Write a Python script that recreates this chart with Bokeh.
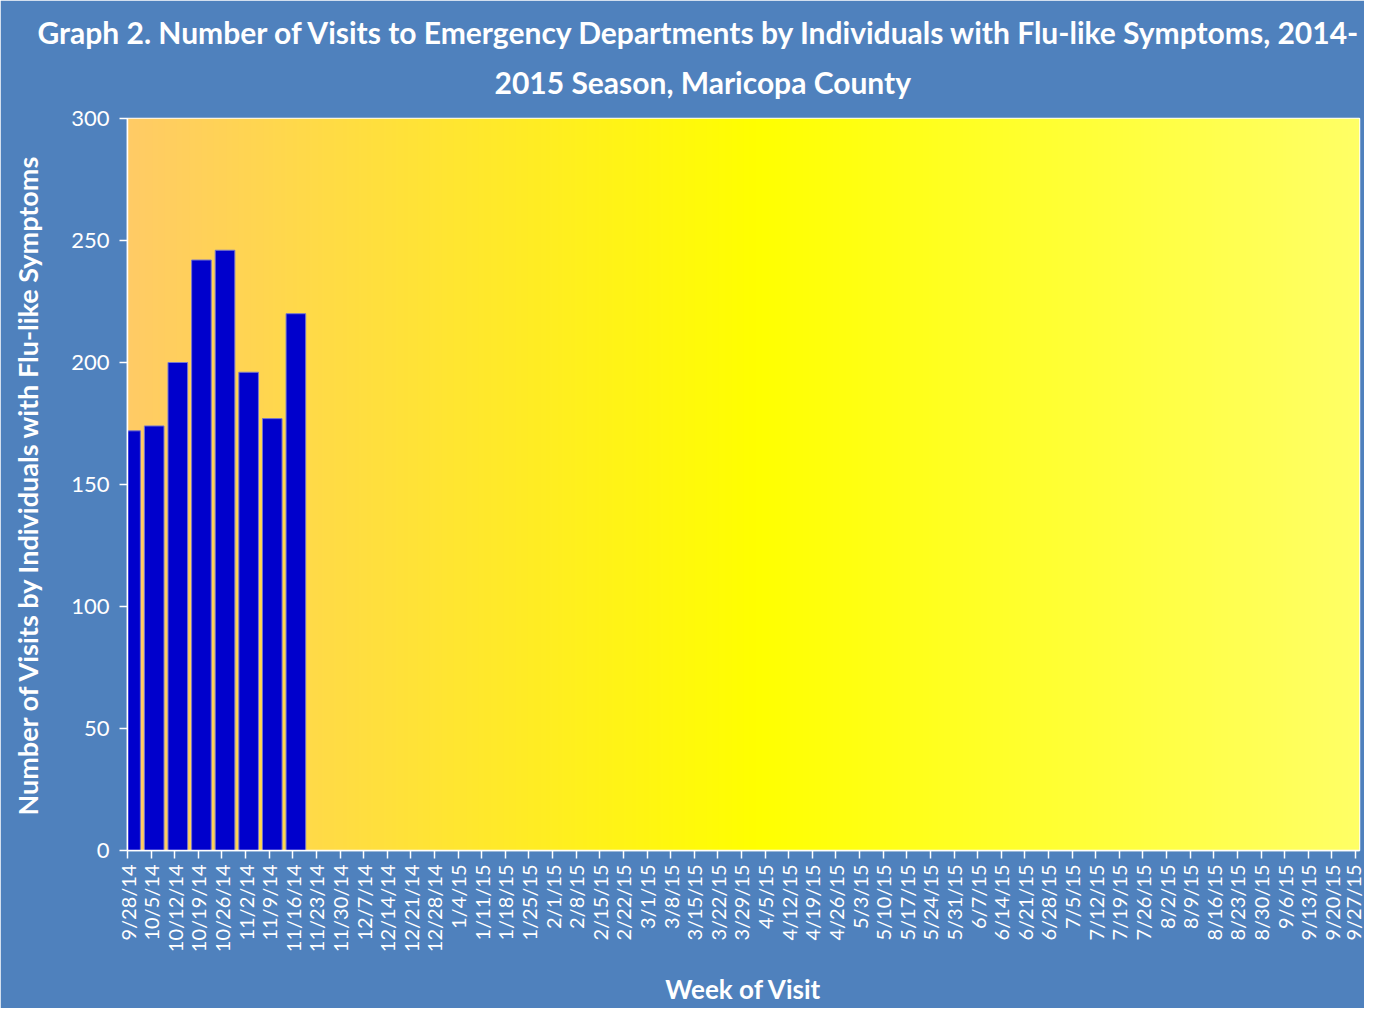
import numpy as np
from bokeh.plotting import figure
from bokeh.models import FixedTicker, ColumnDataSource, Range1d, Title
from bokeh.transform import dodge
from bokeh.embed import file_html
from bokeh.resources import INLINE

weeks = ["9/28/14", "10/5/14", "10/12/14", "10/19/14", "10/26/14", "11/2/14", "11/9/14",
         "11/16/14", "11/23/14", "11/30/14", "12/7/14", "12/14/14", "12/21/14", "12/28/14",
         "1/4/15", "1/11/15", "1/18/15", "1/25/15", "2/1/15", "2/8/15", "2/15/15", "2/22/15",
         "3/1/15", "3/8/15", "3/15/15", "3/22/15", "3/29/15", "4/5/15", "4/12/15", "4/19/15",
         "4/26/15", "5/3/15", "5/10/15", "5/17/15", "5/24/15", "5/31/15", "6/7/15", "6/14/15",
         "6/21/15", "6/28/15", "7/5/15", "7/12/15", "7/19/15", "7/26/15", "8/2/15", "8/9/15",
         "8/16/15", "8/23/15", "8/30/15", "9/6/15", "9/13/15", "9/20/15", "9/27/15"]
visits = [172, 174, 200, 242, 246, 196, 177, 220]
y_ticks = [0, 50, 100, 150, 200, 250, 300]
title_lines = ["Graph 2. Number of Visits to Emergency Departments by Individuals with Flu-like Symptoms, 2014-",
               "2015 Season, Maricopa County"]

BG = "#4F81BD"
FONT = "Lato"

idx = list(range(len(weeks)))
src = ColumnDataSource(dict(x=idx[:len(visits)], top=visits))

p = figure(width=1364, height=1008, output_backend="svg", toolbar_location=None,
           x_range=Range1d(0, len(weeks) - 1 + 0.17), y_range=Range1d(y_ticks[0], y_ticks[-1]),
           min_border_left=127, min_border_right=5, min_border_top=0, min_border_bottom=0)
p.background_fill_color = BG
p.border_fill_color = BG
p.outline_line_color = "white"
p.outline_line_width = 1.5
p.grid.visible = False
p.title.visible = False

# gradient plot background
n = 400
t = np.linspace(0, 1, n)
left = np.array([255, 203, 102]); mid = np.array([255, 255, 0]); right = np.array([255, 255, 102])
cols = np.where(t[:, None] < 0.51,
                left + (mid - left) * (t[:, None] / 0.51),
                mid + (right - mid) * ((t[:, None] - 0.51) / 0.49))
img = np.zeros((1, n), dtype=np.uint32)
view = img.view(dtype=np.uint8).reshape((1, n, 4))
view[0, :, 0] = cols[:, 0]; view[0, :, 1] = cols[:, 1]; view[0, :, 2] = cols[:, 2]; view[0, :, 3] = 255
xr = p.x_range
p.image_rgba(image=[img], x=xr.start, y=y_ticks[0], dw=xr.end - xr.start, dh=y_ticks[-1] - y_ticks[0])

p.vbar(x=dodge("x", 0.13, range=p.x_range), top="top", bottom=0, width=0.83, source=src,
       fill_color="#0000CC", line_color="#7777CC", line_width=1)

t2 = Title(text=title_lines[1], align="left", offset=367, text_color="white", text_font=FONT,
           text_font_style="bold", text_font_size="30px", standoff=38)
t1 = Title(text=title_lines[0], align="left", offset=-90, text_color="white", text_font=FONT,
           text_font_style="bold", text_font_size="30px", standoff=-14)
spacer = Title(text=" ", text_font_size="14px", standoff=0)
p.add_layout(t2, "above")
p.add_layout(t1, "above")
p.add_layout(spacer, "above")

p.xaxis.ticker = FixedTicker(ticks=idx)
p.xaxis.major_label_overrides = {i: w for i, w in enumerate(weeks)}
p.xaxis.major_label_orientation = np.pi / 2
p.xaxis.axis_label = "Week of Visit"
p.yaxis.ticker = FixedTicker(ticks=y_ticks)
p.yaxis.axis_label = "Number of Visits by Individuals with Flu-like Symptoms"

for ax in (p.xaxis[0], p.yaxis[0]):
    ax.axis_line_color = "white"
    ax.axis_line_width = 1.5
    ax.major_tick_line_color = "white"
    ax.major_tick_line_width = 1.5
    ax.major_tick_out = 8
    ax.major_tick_in = 0
    ax.minor_tick_line_color = None
    ax.major_label_text_color = "white"
    ax.major_label_text_font = FONT
    ax.axis_label_text_color = "white"
    ax.axis_label_text_font = FONT
    ax.axis_label_text_font_style = "bold"

p.xaxis.major_label_text_font_size = "20px"
p.xaxis.major_label_standoff = 6
p.xaxis.axis_label_text_font_size = "26px"
p.xaxis.axis_label_standoff = 18
p.yaxis.major_label_text_font_size = "22px"
p.yaxis.major_label_standoff = 10
p.yaxis.axis_label_text_font_size = "27px"
p.yaxis.axis_label_standoff = 24

open("out.html", "w").write(file_html(p, INLINE))
